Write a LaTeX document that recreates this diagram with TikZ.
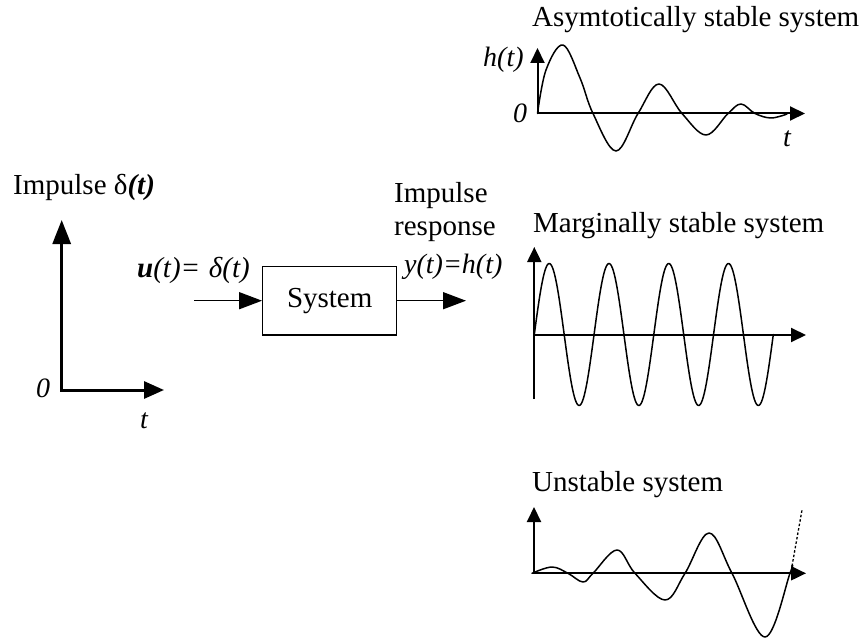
\documentclass[tikz,border=0pt]{standalone}
\usepackage{fontspec}
\setmainfont{Liberation Serif}
\usetikzlibrary{arrows.meta}
\begin{document}
\begin{tikzpicture}[x=1pt,y=-1pt,
  txt/.style={font=\fontsize{29}{34}\selectfont, inner sep=0pt, anchor=base west},
  lbl/.style={font=\fontsize{28}{32}\selectfont\itshape, inner sep=0pt, anchor=base west},
  bigaxis/.style={line width=3pt, {Triangle[length=24pt,width=18pt]}-{Triangle[length=20pt,width=17pt]}},
  flow/.style={line width=1.5pt, -{Triangle[length=23pt,width=17pt]}},
  axis/.style={line width=2pt, -{Triangle[length=15pt,width=14pt]}},
  axis2/.style={line width=2pt, {Triangle[length=15pt,width=14pt]}-{Triangle[length=15pt,width=14pt]}},
  curve/.style={line width=1.5pt, line join=round, line cap=round},
  block/.style={draw, line width=1.3pt, minimum width=134pt, minimum height=68.3pt, inner sep=0pt, font=\fontsize{29}{34}\selectfont}]
\useasboundingbox (0,0) rectangle (859,639);

% ---- left: impulse input ----
\node[txt] (impt) at (13,195) {Impulse δ\textbf{\textit{(t)}}};
\coordinate (ly) at (61.7,220);
\coordinate (lo) at (61.7,390);
\coordinate (lx) at (164,390);
\draw[bigaxis, line join=miter] (ly) -- (lo) -- (lx);
\node[lbl] (l0) at (36,397) {0};
\node[lbl] (lt) at (140,428) {t};

% ---- block diagram ----
\node[block] (sys) at (329.7,300.8) {System};
\coordinate (in) at (194,300.7);
\coordinate (out) at (466,300.7);
\draw[flow] (in) -- (sys.west |- in);
\draw[flow] (sys.east |- out) -- (out);
\node[txt] (ulbl) at (137,277) {\textbf{\textit{u}}\textit{(t)=}\hspace{0.3em}\textit{δ(t)}};
\node[lbl] (ylbl) at (404,273) {y(t)=h(t)};
\node[txt] (imp1) at (394,203) {Impulse};
\node[txt] (imp2) at (394,235) {response};

% ---- asymptotically stable ----
\node[txt] (t1) at (532,27) {Asymtotically stable system};
\coordinate (ay) at (537.5,48);
\coordinate (ao) at (537.5,113.5);
\coordinate (ax) at (805,113.5);
\draw[axis2, line join=miter] (ay) -- (ao) -- (ax);
\node[lbl] (ah) at (483,67) {h(t)};
\node[lbl] (a0) at (513,123) {0};
\node[lbl] (at) at (783,147) {t};
\draw[curve] plot[smooth, tension=0.6] coordinates {(537.5,113.5) (546,70) (563,45) (580,78) (593,113.5) (616,151) (638,113.5) (659,84) (682,113.5) (706,135) (728,113.5) (741,104) (755,113.5) (771,118) (787,114)};

% ---- marginally stable ----
\node[txt] (t2) at (533,233) {Marginally stable system};
\coordinate (my) at (534.3,247);
\coordinate (mb) at (534.3,399);
\coordinate (mo) at (534.3,335);
\coordinate (mx) at (806,335);
\draw[axis] (mb) -- (my);
\draw[axis] (mo) -- (mx);
\draw[curve] plot[domain=0:239, samples=240] ({534.3+\x},{334.5-71*sin(\x/59.75*360)});

% ---- unstable ----
\node[txt] (t3) at (532,491) {Unstable system};
\coordinate (uy) at (534,507);
\coordinate (uo) at (534,573.3);
\coordinate (ux) at (806,573.3);
\draw[axis2, line join=miter] (uy) -- (uo) -- (ux);
\draw[curve] plot[smooth, tension=0.6] coordinates {(532,573.3) (552,567) (568,573.3) (583,582) (593,573.3) (617,550) (635,573.3) (665,600) (685,573.3) (709,533) (732,573.3) (765,637) (790,573.3) (792,566)};
\coordinate (ue) at (792,566);
\coordinate (uf) at (802,510);
\draw[line width=1.3pt, dash pattern=on 2.5pt off 2pt] (ue) -- (uf);
\end{tikzpicture}
\end{document}
